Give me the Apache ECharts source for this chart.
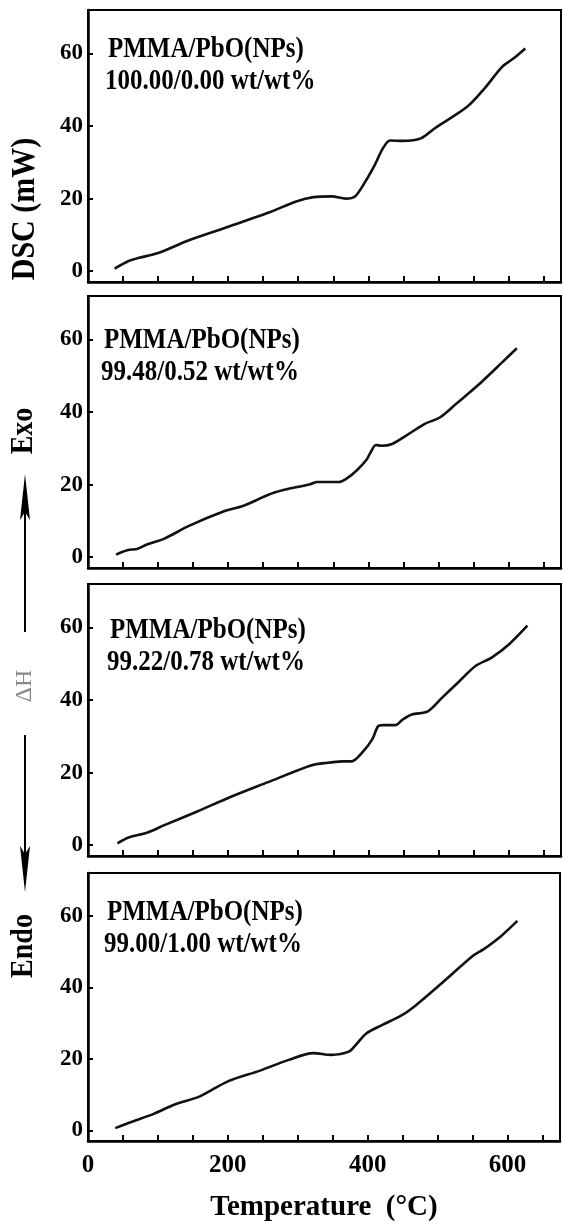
<!DOCTYPE html>
<html>
<head>
<meta charset="utf-8">
<script src="https://cdn.jsdelivr.net/npm/echarts@6/dist/echarts.min.js"></script>
<style>
  html, body { margin: 0; padding: 0; background: #fff; }
  #main { width: 563px; height: 1226px; }
</style>
</head>
<body>
<div id="main"></div>
<script>
// temperature (°C) and DSC (mW)
const t1 = [38, 58, 73, 99, 144, 195, 256, 297, 322, 348, 368, 381, 393, 408, 421, 431, 449, 475, 495, 541, 566, 591, 607, 624];
const dsc1 = [0.7, 2.8, 3.7, 4.9, 8.5, 11.9, 16.0, 19.2, 20.4, 20.6, 20.0, 20.6, 23.8, 28.8, 33.9, 36.0, 35.9, 36.6, 39.4, 45.3, 50.4, 56.3, 58.6, 61.4];

const t2 = [40, 56, 71, 84, 109, 144, 195, 221, 266, 317, 327, 358, 368, 383, 398, 403, 411, 419, 434, 454, 480, 502, 525, 556, 591, 612];
const dsc2 = [0.7, 1.9, 2.3, 3.5, 5.1, 8.6, 12.7, 14.1, 17.8, 20.1, 20.7, 20.7, 21.5, 23.8, 27.0, 28.8, 30.9, 30.7, 31.2, 33.5, 36.7, 38.5, 42.2, 47.3, 53.7, 57.6];

const t3 = [42, 58, 84, 109, 155, 205, 256, 317, 337, 363, 376, 393, 406, 414, 421, 439, 449, 462, 485, 505, 530, 553, 576, 601, 627];
const dsc3 = [0.5, 2.1, 3.4, 5.5, 9.2, 13.4, 17.3, 21.9, 22.6, 23.1, 23.1, 25.9, 29.3, 32.8, 33.1, 33.1, 34.6, 36.0, 36.9, 40.6, 45.2, 49.4, 51.7, 55.4, 60.5];

const t4 = [39, 63, 94, 124, 160, 200, 246, 287, 322, 348, 373, 383, 398, 419, 449, 469, 505, 551, 566, 591, 614];
const dsc4 = [0.6, 2.4, 4.6, 7.2, 9.5, 13.7, 16.7, 19.7, 21.6, 21.1, 22.0, 23.9, 27.1, 29.3, 32.2, 35.0, 41.0, 48.9, 50.7, 54.4, 58.6];

const ratios = ["100.00/0.00 wt/wt%", "99.48/0.52 wt/wt%", "99.22/0.78 wt/wt%", "99.00/1.00 wt/wt%"];
const yTicks = [0, 20, 40, 60];

const temps = [t1, t2, t3, t4];
const vals = [dsc1, dsc2, dsc3, dsc4];

const serif = "'Liberation Serif', 'Times New Roman', serif";
const tops = [10, 296, 584, 873];
const heights = [272, 272, 272, 268];
const textY = [50, 341, 631, 913];
const textX = [108, 104, 110, 107];

let grids = [], xAxes = [], yAxes = [], series = [], graphics = [];

for (let i = 0; i < 4; i++) {
    grids.push({
        left: 88, right: 2, top: tops[i], height: heights[i],
        show: true, borderColor: "#000", borderWidth: 2
    });
    let last = i == 3;
    xAxes.push({
        gridIndex: i, type: "value", min: 0, max: 675, interval: 50,
        axisLine: { onZero: false, lineStyle: { color: "#000", width: 2.5 } },
        axisTick: { inside: true, length: 6, lineStyle: { color: "#000", width: 2 } },
        axisLabel: {
            show: last, margin: 12, color: "#000",
            fontFamily: serif, fontWeight: "bold", fontSize: 25,
            formatter: function (v) { return v % 200 == 0 ? v : ""; }
        },
        splitLine: { show: false },
        name: last ? "Temperature  (\u00B0C)" : "",
        nameLocation: "middle", nameGap: 52,
        nameTextStyle: { color: "#000", fontFamily: serif, fontWeight: "bold", fontSize: 29 }
    });
    yAxes.push({
        gridIndex: i, type: "value", min: -3, max: 72,
        axisLine: { onZero: false, lineStyle: { color: "#000", width: 2.5 } },
        axisTick: { inside: true, length: 5, customValues: yTicks, lineStyle: { color: "#000", width: 2 } },
        axisLabel: {
            customValues: yTicks, margin: 5, color: "#000",
            fontFamily: serif, fontWeight: "bold", fontSize: 23
        },
        splitLine: { show: false }
    });
    series.push({
        type: "line", xAxisIndex: i, yAxisIndex: i,
        data: temps[i].map((t, k) => [t, vals[i][k]]),
        smooth: 0.3, showSymbol: false,
        lineStyle: { color: "#111", width: 2.6 }
    });
    graphics.push({
        type: "text", x: textX[i], y: textY[i], scaleY: 1.15,
        style: { text: "PMMA/PbO(NPs)", fill: "#000", font: "bold 25px " + serif, verticalAlign: "middle" }
    });
    graphics.push({
        type: "text", x: textX[i] - 3, y: textY[i] + 32, scaleY: 1.15,
        style: { text: ratios[i], fill: "#000", font: "bold 25px " + serif, verticalAlign: "middle" }
    });
}

// side labels and Exo / Endo arrows
graphics.push(
    { type: "text", x: 25, y: 209, rotation: Math.PI / 2, scaleY: 1.1,
      style: { text: "DSC (mW)", fill: "#000", font: "bold 30px " + serif, align: "center", verticalAlign: "middle" } },
    { type: "text", x: 24, y: 431, rotation: Math.PI / 2, scaleY: 1.1,
      style: { text: "Exo", fill: "#000", font: "bold 28px " + serif, align: "center", verticalAlign: "middle" } },
    { type: "line", shape: { x1: 25, y1: 632, x2: 25, y2: 495 }, style: { stroke: "#000", lineWidth: 2 } },
    { type: "polygon", shape: { points: [[25, 474], [20, 520], [25, 512], [30, 520]] }, style: { fill: "#000" } },
    { type: "text", x: 25, y: 686, rotation: Math.PI / 2,
      style: { text: "\u0394H", fill: "#888", font: "24px " + serif, align: "center", verticalAlign: "middle" } },
    { type: "line", shape: { x1: 25, y1: 735, x2: 25, y2: 870 }, style: { stroke: "#000", lineWidth: 2 } },
    { type: "polygon", shape: { points: [[25, 892], [20, 846], [25, 854], [30, 846]] }, style: { fill: "#000" } },
    { type: "text", x: 24, y: 946, rotation: Math.PI / 2, scaleY: 1.1,
      style: { text: "Endo", fill: "#000", font: "bold 28px " + serif, align: "center", verticalAlign: "middle" } }
);

var myChart = echarts.init(document.getElementById("main"));
myChart.setOption({
    animation: false,
    backgroundColor: "#fff",
    grid: grids,
    xAxis: xAxes,
    yAxis: yAxes,
    series: series,
    graphic: graphics
});
</script>
</body>
</html>
